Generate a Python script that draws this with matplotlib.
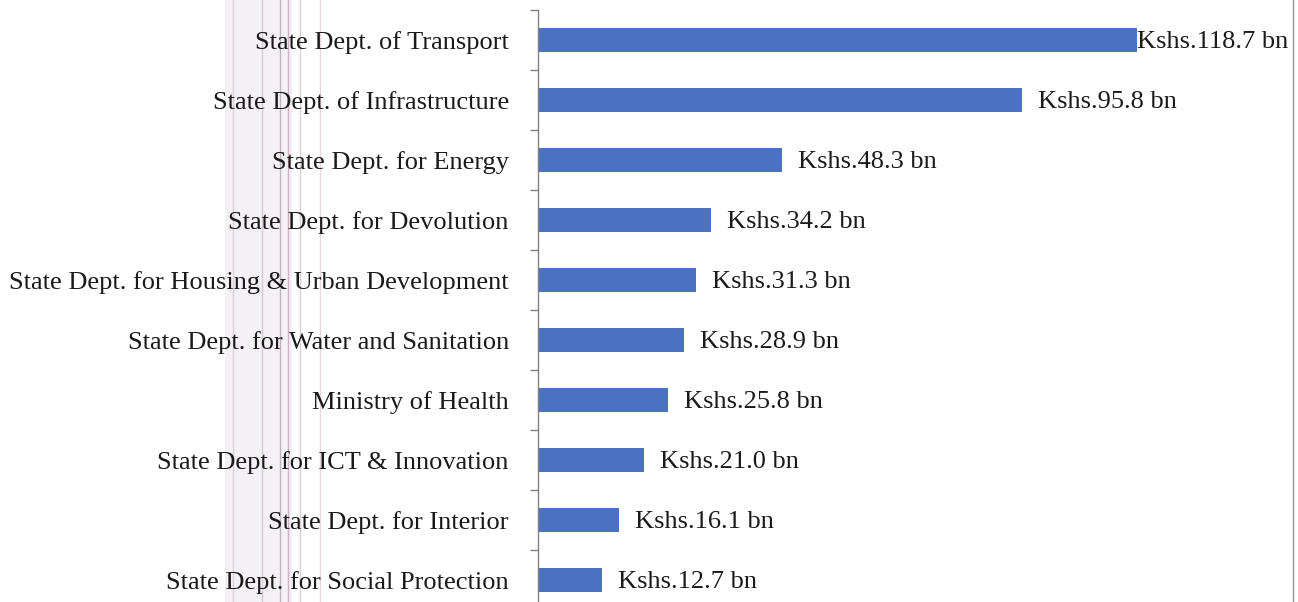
import matplotlib
matplotlib.use("Agg")
import matplotlib.pyplot as plt
from matplotlib.lines import Line2D
from matplotlib.patches import Rectangle

categories = [
    "State Dept. of Transport",
    "State Dept. of Infrastructure",
    "State Dept. for Energy",
    "State Dept. for Devolution",
    "State Dept. for Housing & Urban Development",
    "State Dept. for Water and Sanitation",
    "Ministry of Health",
    "State Dept. for ICT & Innovation",
    "State Dept. for Interior",
    "State Dept. for Social Protection",
]
values = [118.7, 95.8, 48.3, 34.2, 31.3, 28.9, 25.8, 21.0, 16.1, 12.7]
labels = ["Kshs.%.1f bn" % v for v in values]

plt.rcParams['font.family'] = ['Liberation Serif', 'DejaVu Serif']

W, H = 1298, 602
fig = plt.figure(figsize=(W / 100, H / 100), dpi=100)

# faint scan band behind the category labels
fig.add_artist(Rectangle((225 / W, 0), (292 - 225) / W, 1, transform=fig.transFigure,
                         facecolor="#eee6eb", edgecolor="none", alpha=0.6, zorder=0))
for xp, c in [(233, "#ddd0d9"), (262, "#d6cbd2"), (280, "#c2b4bf"),
              (288, "#cfb3c1"), (300, "#e0ced7"), (320, "#e8d7e0")]:
    fig.add_artist(Line2D([xp / W, xp / W], [0, 1], color=c, lw=1, zorder=0))

ax = fig.add_axes([538 / W, -8 / H, (1293 - 538) / W, 600 / H])
ax.patch.set_alpha(0)

n = len(categories)
ypos = list(range(n))
ax.barh(ypos, values, height=0.4, color="#4a72c0", zorder=2)
ax.set_ylim(n - 0.5, -0.5)
ax.set_xlim(0, 149.5)

ax.set_yticks(ypos)
ax.set_yticklabels(categories, fontsize=19, color="#1a1a1a")
ax.tick_params(axis="y", which="major", length=0, pad=21)
ax.set_yticks([i - 0.5 for i in range(n + 1)], minor=True)
ax.tick_params(axis="y", which="minor", length=6, color="#808080", width=1)
ax.set_xticks([])

for s in ["top", "right", "bottom"]:
    ax.spines[s].set_visible(False)
ax.spines["left"].set_color("#808080")
ax.spines["left"].set_linewidth(1)

fig.canvas.draw()
renderer = fig.canvas.get_renderer()
xmax_px = ax.transData.transform((ax.get_xlim()[1], 0))[0]
for y, v, lab in zip(ypos, values, labels):
    t = ax.annotate(lab, (v, y), xytext=(11.5, 0), textcoords="offset points",
                    va="center_baseline", ha="left", fontsize=19, color="#1a1a1a")
    bb = t.get_window_extent(renderer)
    if bb.x1 > xmax_px:
        t.set_position((0, 0))

fig.add_artist(Line2D([1293 / W, 1293 / W], [0, 1], color="#909090", lw=1))

fig.savefig("out.png", dpi=100)
